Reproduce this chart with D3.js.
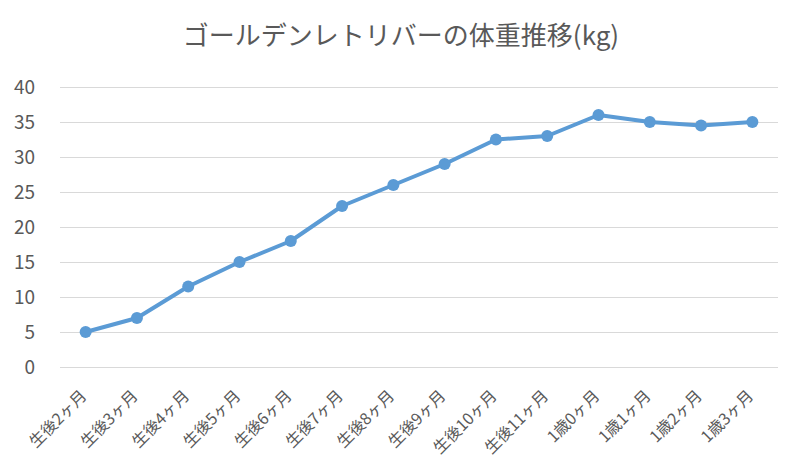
<!DOCTYPE html>
<html><head><meta charset="utf-8">
<script src="https://cdn.jsdelivr.net/npm/d3@7"></script>
<style>body{margin:0;background:#fff}svg{display:block}</style>
</head><body>
<svg id="c" width="800" height="473"></svg>
<script>
const categories = ["生後2ヶ月","生後3ヶ月","生後4ヶ月","生後5ヶ月","生後6ヶ月","生後7ヶ月","生後8ヶ月","生後9ヶ月","生後10ヶ月","生後11ヶ月","1歳0ヶ月","1歳1ヶ月","1歳2ヶ月","1歳3ヶ月"];
const weights = [5, 7, 11.5, 15, 18, 23, 26, 29, 32.5, 33, 36, 35, 34.5, 35];
const yTicks = [0, 5, 10, 15, 20, 25, 30, 35, 40];
const title = "ゴールデンレトリバーの体重推移(kg)";

(function () {
const svg = d3.select("#c");
const font = "'Noto Sans CJK JP','Noto Sans',sans-serif";
const mL = 60, mR = 778, mT = 87, mB = 367;
const x = d3.scaleBand().domain(categories).range([mL, mR]);
const y = d3.scaleLinear().domain([0, 40]).range([mB, mT]);

svg.append("text").attr("x", 401).attr("y", 45).attr("text-anchor", "middle")
  .attr("font-family", font).attr("font-size", 26).attr("fill", "#595959").text(title);

const ga = svg.append("g").attr("transform", `translate(${mL},0)`)
  .call(d3.axisLeft(y).tickValues(yTicks).tickSize(-(mR - mL)).tickPadding(25));
ga.select(".domain").remove();
ga.selectAll(".tick line").attr("stroke", "#d9d9d9").attr("stroke-width", 1);
ga.selectAll(".tick text").attr("font-family", font).attr("font-size", 19).attr("fill", "#595959");

const gx = svg.append("g").attr("transform", `translate(0,${mB})`)
  .call(d3.axisBottom(x).tickSize(0));
gx.select(".domain").remove();
gx.selectAll(".tick text")
  .attr("font-family", font).attr("font-size", 16).attr("fill", "#595959")
  .attr("text-anchor", "end").attr("dy", 0).attr("y", 0)
  .attr("transform", "translate(2,30) rotate(-45)");

const pts = categories.map((c, i) => [x(c) + x.bandwidth() / 2, y(weights[i])]);
svg.append("path").attr("d", d3.line()(pts)).attr("fill", "none")
  .attr("stroke", "#5B9BD5").attr("stroke-width", 4).attr("stroke-linejoin", "round");
svg.selectAll("circle.pt").data(pts).join("circle").attr("class", "pt")
  .attr("cx", d => d[0]).attr("cy", d => d[1]).attr("r", 6).attr("fill", "#5B9BD5");
})();
</script>
</body></html>
